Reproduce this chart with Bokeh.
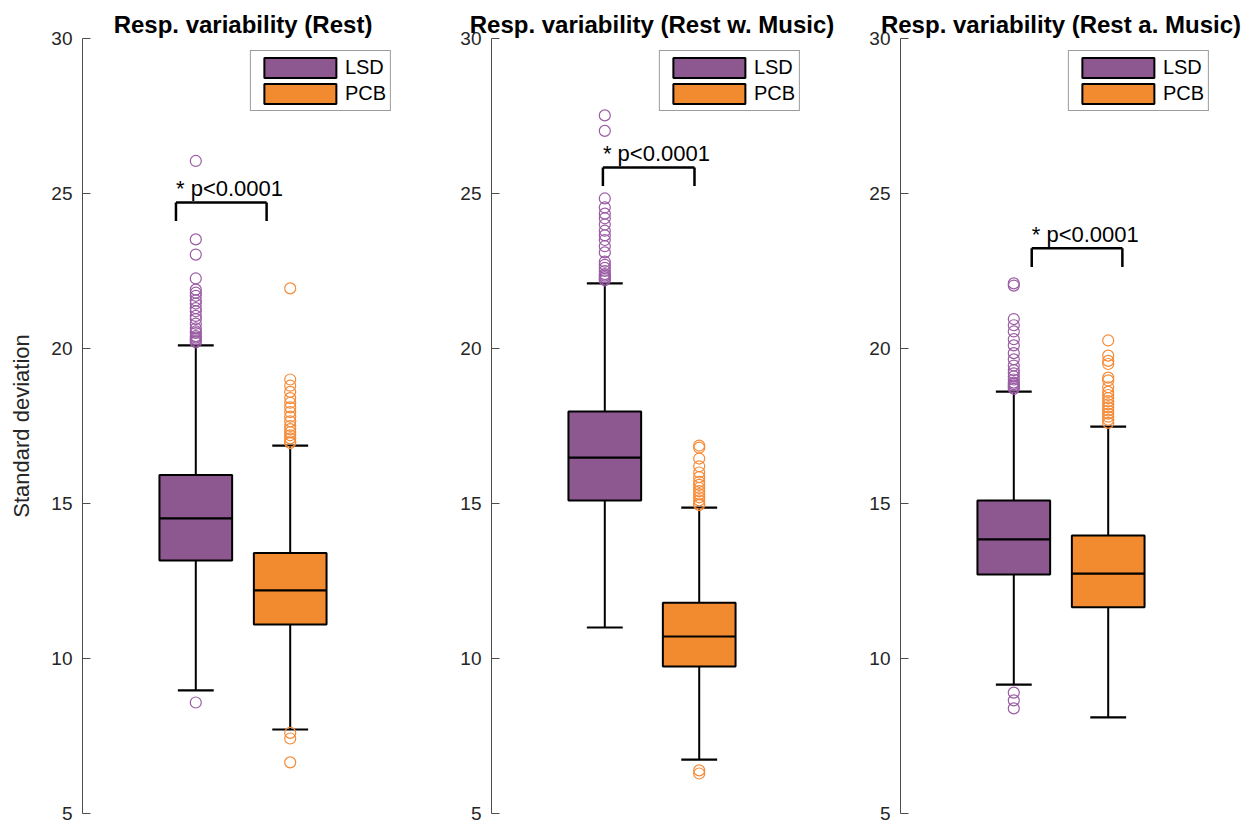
from bokeh.plotting import figure
from bokeh.models import Range1d, Label, Legend, LegendItem, ColumnDataSource
from bokeh.layouts import row
from bokeh.embed import file_html
from bokeh.resources import INLINE

# ---------------- data ----------------
titles = ["Resp. variability (Rest)", "Resp. variability (Rest w. Music)",
          "Resp. variability (Rest a. Music)"]
groups = ["LSD", "PCB"]
y_label = "Standard deviation"
y_ticks = [5, 10, 15, 20, 25, 30]

lsd_q1 = [13.16, 15.10, 12.71]
lsd_med = [14.52, 16.48, 13.84]
lsd_q3 = [15.92, 17.97, 15.10]
lsd_wlo = [8.97, 11.00, 9.16]
lsd_whi = [20.10, 22.10, 18.61]

pcb_q1 = [11.10, 9.74, 11.65]
pcb_med = [12.20, 10.71, 12.74]
pcb_q3 = [13.40, 11.80, 13.97]
pcb_wlo = [7.71, 6.74, 8.10]
pcb_whi = [16.87, 14.87, 17.48]

lsd_out = [
    [26.05, 23.52, 23.03, 22.26, 21.90, 21.80, 21.70, 21.55, 21.45, 21.30, 21.20,
     21.05, 20.95, 20.80, 20.65, 20.55, 20.50, 20.40, 20.35, 20.30, 20.25, 20.20, 8.58],
    [27.52, 27.02, 24.84, 24.55, 24.35, 24.20, 24.00, 23.80, 23.65, 23.50, 23.30,
     23.10, 22.80, 22.70, 22.60, 22.50, 22.40, 22.35, 22.30, 22.25, 22.20],
    [22.10, 22.03, 20.95, 20.75, 20.55, 20.30, 20.10, 19.85, 19.65, 19.45, 19.30,
     19.20, 19.10, 19.00, 18.90, 18.85, 18.80, 18.75, 18.70, 8.90, 8.65, 8.39],
]
pcb_out = [
    [21.94, 19.00, 18.80, 18.60, 18.40, 18.25, 18.10, 17.95, 17.80, 17.65, 17.50,
     17.40, 17.30, 17.20, 17.10, 17.00, 16.95, 7.60, 7.42, 6.65],
    [16.87, 16.80, 16.45, 16.20, 16.00, 15.85, 15.70, 15.60, 15.50, 15.40, 15.30,
     15.20, 15.10, 15.00, 14.95, 6.39, 6.29],
    [20.26, 19.77, 19.60, 19.50, 19.06, 18.97, 18.75, 18.60, 18.50, 18.40, 18.30,
     18.20, 18.10, 18.00, 17.90, 17.80, 17.70, 17.60],
]

sig_text = "* p<0.0001"
sig_x0 = [0.79, 0.98, 1.19]
sig_x1 = [1.75, 1.95, 2.15]
sig_y = [24.71, 25.84, 23.23]

# ---------------- style ----------------
FONT = "Liberation Sans"
LSD_FILL = "#8D5790"
PCB_FILL = "#F28A2F"
LSD_OUT = "#9A5CA4"
PCB_OUT = "#F58A36"
TXT = "#262626"
BOX_W = 0.77
CAP_W = 0.38

fig_w = [455, 395, 397]
border_l = [82, 36, 50]
border_r = [52, 38, 26]

figs = []
for i in range(3):
    p = figure(width=fig_w[i], height=820, output_backend="svg", toolbar_location=None,
               x_range=Range1d(-0.2, 3.2), y_range=Range1d(5, 30),
               min_border_left=border_l[i], min_border_right=border_r[i],
               min_border_top=38, min_border_bottom=7)
    p.outline_line_color = None
    p.grid.visible = False
    p.xaxis.visible = False
    p.background_fill_color = "white"
    p.border_fill_color = "white"

    p.title.text = titles[i]
    p.title.align = "center"
    p.title.text_font = FONT
    p.title.text_font_size = "24px"
    p.title.text_font_style = "bold"
    p.title.text_color = "black"
    p.title.standoff = 2

    ax = p.yaxis[0]
    ax.ticker = y_ticks
    ax.minor_tick_line_color = None
    ax.major_tick_in = 8
    ax.major_tick_out = 0
    ax.axis_line_color = "#4d4d4d"
    ax.major_tick_line_color = "#4d4d4d"
    ax.major_label_text_font = FONT
    ax.major_label_text_font_size = "19px"
    ax.major_label_text_color = TXT
    ax.major_label_standoff = 10
    if i == 0:
        ax.axis_label = y_label
        ax.axis_label_text_font = FONT
        ax.axis_label_text_font_size = "22px"
        ax.axis_label_text_font_style = "normal"
        ax.axis_label_text_color = TXT
        ax.axis_label_standoff = 14

    stats = [
        (lsd_q1[i], lsd_med[i], lsd_q3[i], lsd_wlo[i], lsd_whi[i], lsd_out[i], LSD_FILL, LSD_OUT),
        (pcb_q1[i], pcb_med[i], pcb_q3[i], pcb_wlo[i], pcb_whi[i], pcb_out[i], PCB_FILL, PCB_OUT),
    ]
    box_renderers = []
    for k, (q1, med, q3, wlo, whi, outs, fc, oc) in enumerate(stats):
        xpos = k + 1
        # whiskers
        p.segment(x0=[xpos, xpos], y0=[q3, q1], x1=[xpos, xpos], y1=[whi, wlo],
                  line_color="black", line_width=2)
        p.segment(x0=[xpos - CAP_W / 2] * 2, y0=[whi, wlo], x1=[xpos + CAP_W / 2] * 2,
                  y1=[whi, wlo], line_color="black", line_width=2.2)
        # box
        src = ColumnDataSource(dict(x=[xpos], bottom=[q1], top=[q3]))
        r = p.vbar(x="x", bottom="bottom", top="top", width=BOX_W, source=src,
                   fill_color=fc, line_color="black", line_width=2)
        box_renderers.append(r)
        # median
        p.segment(x0=[xpos - BOX_W / 2], y0=[med], x1=[xpos + BOX_W / 2], y1=[med],
                  line_color="black", line_width=2.2)
        # outliers
        p.scatter(x=[xpos] * len(outs), y=outs, marker="circle", size=11,
                  fill_color=None, line_color=oc, line_width=1.2)

    # significance bracket
    x0, x1, yb = sig_x0[i], sig_x1[i], sig_y[i]
    leg = 0.6
    p.segment(x0=[x0, x0, x1], y0=[yb, yb, yb], x1=[x1, x0, x1], y1=[yb, yb - leg, yb - leg],
              line_color="black", line_width=2.5)
    p.add_layout(Label(x=x0, y=yb + 0.46, text=sig_text, text_align="left",
                       text_baseline="alphabetic", text_font=FONT, text_font_size="22px",
                       text_color="black"))

    legend = Legend(items=[LegendItem(label=groups[0], renderers=[box_renderers[0]]),
                           LegendItem(label=groups[1], renderers=[box_renderers[1]])],
                    location="top_right", margin=12, padding=4, spacing=1,
                    glyph_width=90, glyph_height=25, label_height=20, label_standoff=0,
                    label_text_font=FONT, label_text_font_size="20px", label_text_color="black",
                    border_line_color="#3a3a3a", border_line_width=1,
                    background_fill_color="white", background_fill_alpha=1.0)
    p.add_layout(legend)
    figs.append(p)

layout = row(*figs, spacing=0)
open("out.html", "w").write(file_html(layout, INLINE))
